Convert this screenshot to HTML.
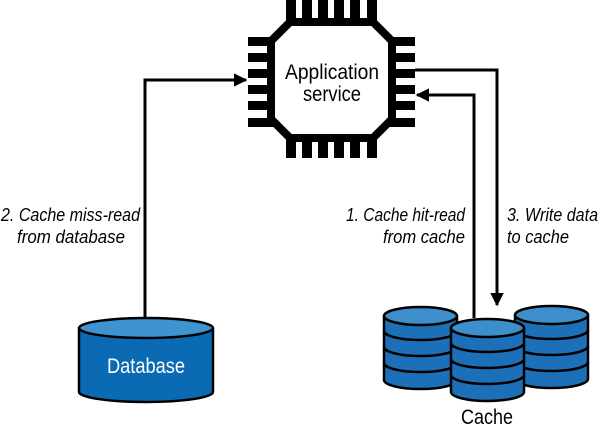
<!DOCTYPE html>
<html><head><style>
body{margin:0;background:#fff;}
svg{display:block;}
text{font-family:"Liberation Sans",sans-serif;}
</style></head><body>
<svg width="600" height="431" viewBox="0 0 600 431">
<defs>
<marker id="ah" viewBox="0 0 10 10" refX="9" refY="5" markerWidth="4.5" markerHeight="4.5" orient="auto"><path d="M0,0L10,5L0,10z" fill="#000"/></marker>
</defs>
<g fill="#000">
<rect x="286" y="0" width="10" height="24"/><rect x="302" y="0" width="10" height="24"/><rect x="318" y="0" width="10" height="24"/><rect x="334" y="0" width="10" height="24"/><rect x="350" y="0" width="10" height="24"/><rect x="367" y="0" width="10" height="24"/>
<rect x="286" y="136" width="10" height="22"/><rect x="302" y="136" width="10" height="22"/><rect x="318" y="136" width="10" height="22"/><rect x="334" y="136" width="10" height="22"/><rect x="350" y="136" width="10" height="22"/><rect x="367" y="136" width="10" height="22"/>
<rect x="248" y="37" width="26" height="9"/><rect x="248" y="53" width="26" height="9"/><rect x="248" y="69" width="26" height="9"/><rect x="248" y="85" width="26" height="9"/><rect x="248" y="101" width="26" height="9"/><rect x="248" y="118" width="26" height="9"/>
<rect x="390" y="37" width="25" height="9"/><rect x="390" y="53" width="25" height="9"/><rect x="390" y="69" width="25" height="9"/><rect x="390" y="85" width="25" height="9"/><rect x="390" y="101" width="25" height="9"/><rect x="390" y="118" width="25" height="9"/>
</g>
<polygon points="290,22 373,22 392,41 392,119 373,138 290,138 271,119 271,41" fill="#fff" stroke="#000" stroke-width="8" stroke-linejoin="miter"/>
<text x="285" y="79" font-size="21" textLength="94" lengthAdjust="spacingAndGlyphs">Application</text>
<text x="303" y="101" font-size="21" textLength="58" lengthAdjust="spacingAndGlyphs">service</text>
<polyline points="145,318 145,80 246,80" fill="none" stroke="#000" stroke-width="3" marker-end="url(#ah)"/>
<polyline points="415,70 497,70 497,305" fill="none" stroke="#000" stroke-width="3" marker-end="url(#ah)"/>
<polyline points="474,318 474,95 417,95" fill="none" stroke="#000" stroke-width="3" marker-end="url(#ah)"/>
<g font-size="18" font-style="italic">
<text x="1" y="221" textLength="139" lengthAdjust="spacingAndGlyphs">2. Cache miss-read</text>
<text x="17" y="243" textLength="108" lengthAdjust="spacingAndGlyphs">from database</text>
<text x="346" y="221" textLength="119" lengthAdjust="spacingAndGlyphs">1. Cache hit-read</text>
<text x="383" y="243" textLength="82" lengthAdjust="spacingAndGlyphs">from cache</text>
<text x="507" y="221" textLength="91" lengthAdjust="spacingAndGlyphs">3. Write data</text>
<text x="507" y="243" textLength="62" lengthAdjust="spacingAndGlyphs">to cache</text>
</g>
<path d="M79,328 L79,392 A67,10 0 0 0 213,392 L213,328" fill="#0a6ab4" stroke="#000" stroke-width="2.5"/>
<ellipse cx="146" cy="328" rx="67" ry="10" fill="#3d94d0" stroke="#000" stroke-width="2.5"/>
<text x="107" y="373" font-size="21" fill="#fff" textLength="78" lengthAdjust="spacingAndGlyphs">Database</text>
<g stroke="#000" stroke-width="2.5">
<g id="stk">
<path d="M384,316 L384,380 A36.5,9 0 0 0 457,380 L457,316" fill="#1d70b8"/>
<path d="M384,363 A36.5,9 0 0 0 457,363 M384,347 A36.5,9 0 0 0 457,347 M384,331 A36.5,9 0 0 0 457,331" fill="none"/>
<ellipse cx="420.5" cy="316" rx="36.5" ry="9" fill="#3d8fcc"/>
</g>
<use href="#stk" x="131" y="-1"/>
<use href="#stk" x="67" y="12"/>
</g>
<text x="461" y="424" font-size="21" textLength="52" lengthAdjust="spacingAndGlyphs">Cache</text>
</svg>
</body></html>
